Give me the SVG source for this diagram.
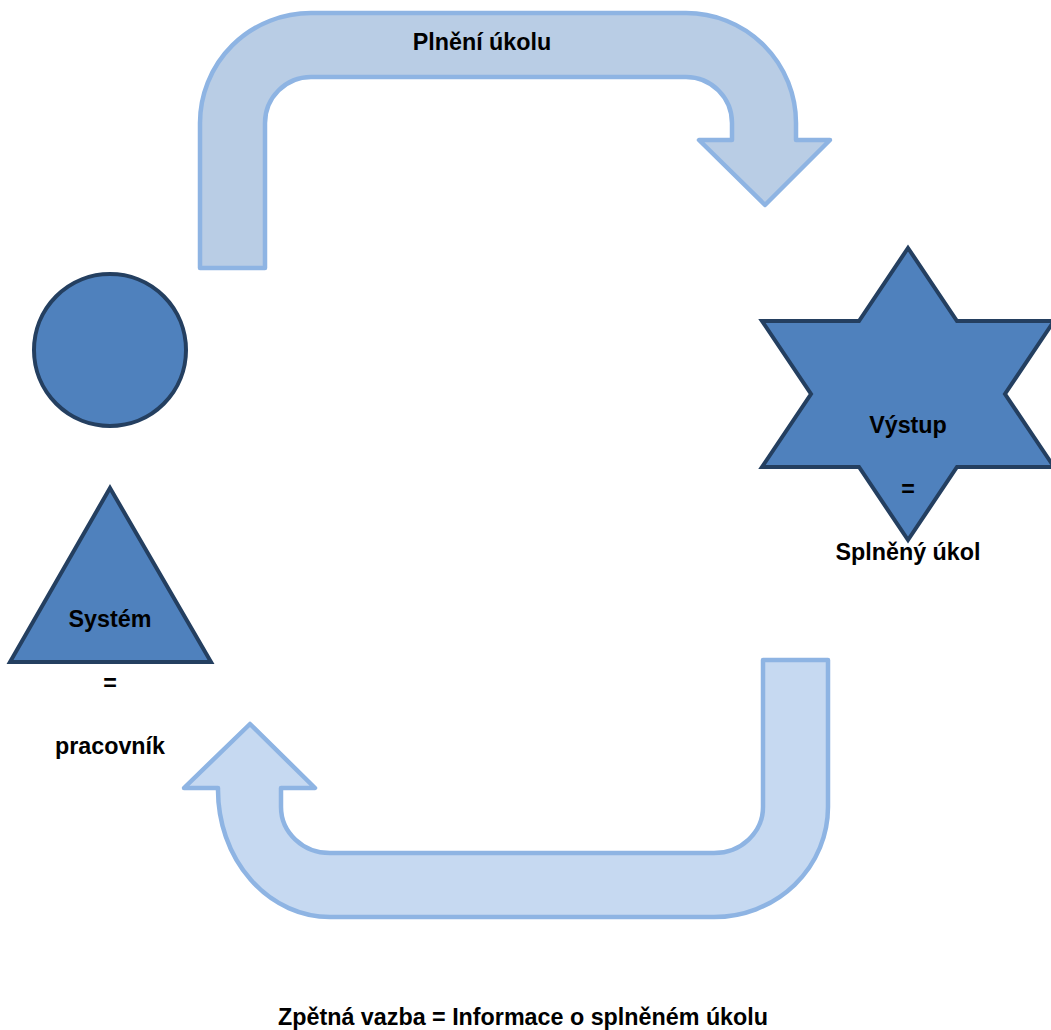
<svg xmlns="http://www.w3.org/2000/svg" width="1051" height="1030" viewBox="0 0 1051 1030">
<style>
.node{fill:#4F81BD;stroke:#243F60;stroke-width:4;stroke-linejoin:miter}
.arrowTop{fill:#B9CDE5;stroke:#8EB4E3;stroke-width:4.5;stroke-linejoin:round}
.arrowBot{fill:#C6D9F1;stroke:#8EB4E3;stroke-width:4.5;stroke-linejoin:round}
.lbl{font-family:"Liberation Sans",Arial,sans-serif;font-weight:bold;font-size:23.3px;fill:#000;text-anchor:middle}
</style>
<rect width="1051" height="1030" fill="#FFFFFF"/>
<g id="connectors">
  <g id="arrow-plneni">
    <path class="arrowTop" d="M200,268 L200,123 A111,110 0 0 1 311,13 L686,13 A110,110 0 0 1 796,123 L796,140 L830,140 L765,205 L699,140 L732,140 L732,123 A46,46 0 0 0 686,77 L311,77 A46,46 0 0 0 265,123 L265,268 Z"/>
    <text class="lbl" x="482" y="50">Plnění úkolu</text>
  </g>
  <g id="arrow-zpetna">
    <path class="arrowBot" d="M828,660 L828,807 A114,110 0 0 1 714,917 L330,917 A112,127 0 0 1 218,790 L218,788 L184,788 L250,724 L315,788 L281,788 L281,807 A49,46 0 0 0 330,853 L714,853 A49,46 0 0 0 763,807 L763,660 Z"/>
  </g>
</g>
<g id="node-hlava">
  <circle class="node" cx="110" cy="350" r="76"/>
</g>
<g id="node-system">
  <polygon class="node" points="110,488 211,662 10,662"/>
  <text class="lbl" x="110" y="627">Systém</text>
  <text class="lbl" x="110" y="691">=</text>
  <text class="lbl" x="110" y="754">pracovník</text>
</g>
<g id="node-vystup">
  <polygon class="node" points="908,248 957,321 1054,321 1005,394 1054,467 957,467 908,540 859,467 762,467 811,394 762,321 859,321"/>
  <text class="lbl" x="908" y="433">Výstup</text>
  <text class="lbl" x="908" y="497">=</text>
  <text class="lbl" x="908" y="560">Splněný úkol</text>
</g>
<g id="label-zpetna">
  <text class="lbl" x="523" y="1025">Zpětná vazba = Informace o splněném úkolu</text>
</g>
</svg>
